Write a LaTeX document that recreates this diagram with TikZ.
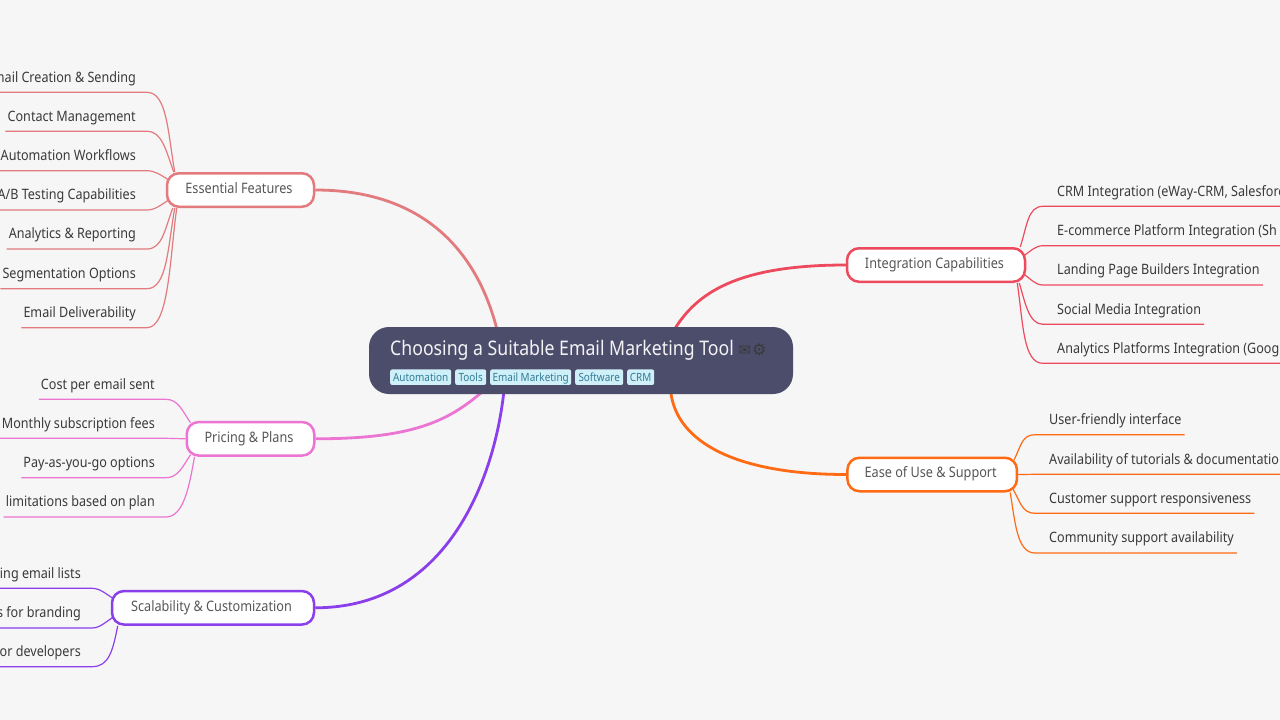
\documentclass[tikz,border=0pt]{standalone}
\usetikzlibrary{backgrounds}
\usepackage{fontspec}
\setmainfont{Noto Sans}[FakeStretch=0.88]
\newfontfamily\symfont{DejaVu Sans}
\definecolor{bgc}{HTML}{F6F6F6}
\definecolor{rootc}{HTML}{4C4C6B}
\definecolor{tagbg}{HTML}{CFF0F8}
\definecolor{tagfg}{HTML}{327C96}
\definecolor{txt}{HTML}{3A3A3A}
\definecolor{essc}{HTML}{E27A7E}
\definecolor{pric}{HTML}{EC74D2}
\definecolor{scac}{HTML}{8A3FEA}
\definecolor{intc}{HTML}{EE4A5E}
\definecolor{easc}{HTML}{FF6A14}
\tikzset{
  x=1pt,y=-1pt,
  branchbox/.style={draw=#1,fill=white,line width=2.5pt,rounded corners=12pt,inner sep=0pt,
    minimum height=33.5pt,text height=10pt,text depth=3.5pt,font=\fontsize{14.4}{16}\selectfont,text=txt!85!white},
  leafnode/.style={inner sep=0pt,text height=12pt,text depth=10pt,font=\fontsize{14.3}{16}\selectfont,text=txt},
  leafl/.style={leafnode,anchor=south east},
  leafr/.style={leafnode,anchor=south west},
  tagbox/.style={fill=tagbg,rounded corners=2pt,inner sep=0pt,minimum height=15.5pt,anchor=west,
    text height=9.5pt,text depth=1pt,font=\fontsize{11.3}{12}\selectfont,text=tagfg},
  trunk/.style={draw=#1,line width=2.8pt},
  twig/.style={draw=#1,line width=1.2pt},
}
\newcommand{\gapL}[1]{\kern2pt #1\kern11pt}
\newcommand{\gapR}[1]{\kern14pt #1\kern3pt}
\newcommand{\lab}[1]{#1\kern3pt}
\begin{document}
\begin{tikzpicture}
\useasboundingbox (0,0) rectangle (1280,720);
\begin{scope}[on background layer]
\fill[bgc] (0,0) rectangle (1280,720);
\end{scope}

% root
\node[fill=rootc,rounded corners=20pt,minimum width=424pt,minimum height=67pt,inner sep=0pt] (root) at (581,360.5) {};
\node[anchor=base west,inner sep=0pt,text=white!93!rootc,font=\fontsize{20.1}{22}\selectfont] (title) at (390,355.2) {Choosing a Suitable Email Marketing Tool};
\node[anchor=base west,inner sep=0pt,text=txt,font=\symfont\fontsize{15}{17}\selectfont] (ico) at (738.5,355) {✉};
\node[anchor=base west,inner sep=0pt,text=txt,font=\symfont\fontsize{16}{17}\selectfont] (ico2) at (752,355.5) {⚙};
\node[tagbox,minimum width=61pt] (t1) at (390,377.2) {Automation};
\node[tagbox,minimum width=31pt] (t2) at (455,377.2) {Tools};
\node[tagbox,minimum width=81pt] (t3) at (490,377.2) {Email Marketing};
\node[tagbox,minimum width=48pt] (t4) at (575,377.2) {Software};
\node[tagbox,minimum width=27pt] (t5) at (627,377.2) {CRM};

% branches
\node[branchbox=essc,minimum width=147pt] (ess) at (240.5,190) {\lab{Essential Features}};
\node[branchbox=pric,minimum width=127.5pt] (pri) at (250.5,438.8) {\lab{Pricing \& Plans}};
\node[branchbox=scac,minimum width=202pt] (sca) at (213,607.8) {\lab{Scalability \& Customization}};
\node[branchbox=intc,minimum width=178pt] (int) at (936,265) {\lab{Integration Capabilities}};
\node[branchbox=easc,minimum width=169.5pt] (eas) at (932.2,474.5) {\lab{Ease of Use \& Support}};

% Essential leaves
\node[leafl] (e1) at (147,92.3) {\gapL{mail Creation \& Sending}};
\node[leafl] (e2) at (147,131.3) {\gapL{Contact Management}};
\node[leafl] (e3) at (147,170.7) {\gapL{Automation Workflows}};
\node[leafl] (e4) at (147,210) {\gapL{A/B Testing Capabilities}};
\node[leafl] (e5) at (147,249) {\gapL{Analytics \& Reporting}};
\node[leafl] (e6) at (147,288.7) {\gapL{Segmentation Options}};
\node[leafl] (e7) at (147,327.7) {\gapL{Email Deliverability}};

% Pricing leaves
\node[leafl] (p1) at (166,399.3) {\gapL{Cost per email sent}};
\node[leafl] (p2) at (166,438.3) {\gapL{Monthly subscription fees}};
\node[leafl] (p3) at (166,477.7) {\gapL{Pay-as-you-go options}};
\node[leafl] (p4) at (166,517) {\gapL{limitations based on plan}};

% Scalability leaves
\node[leafl] (s1) at (92,588.3) {\gapL{ing email lists}};
\node[leafl] (s2) at (92,628) {\gapL{s for branding}};
\node[leafl] (s3) at (92,666.7) {\gapL{or developers}};

% Integration leaves
\node[leafr] (i1) at (1043,206.3) {\gapR{CRM Integration (eWay-CRM, Salesforc}};
\node[leafr] (i2) at (1043,245.7) {\gapR{E-commerce Platform Integration (Sh}};
\node[leafr] (i3) at (1043,285) {\gapR{Landing Page Builders Integration}};
\node[leafr] (i4) at (1043,324.3) {\gapR{Social Media Integration}};
\node[leafr] (i5) at (1043,363.3) {\gapR{Analytics Platforms Integration (Goog}};

% Ease leaves
\node[leafr] (a1) at (1035,434.7) {\gapR{User-friendly interface}};
\node[leafr] (a2) at (1035,474.3) {\gapR{Availability of tutorials \& documentatio}};
\node[leafr] (a3) at (1035,513.3) {\gapR{Customer support responsiveness}};
\node[leafr] (a4) at (1035,553) {\gapR{Community support availability}};

\begin{scope}[on background layer]
% trunks
\draw[trunk=essc] (ess.east) .. controls +(115,0) and +(-18,-70) .. ([xshift=128pt,yshift=-2pt]root.north west);
\draw[trunk=pric] (pri.east) .. controls +(95,0) and +(-35,30) .. ([xshift=113pt,yshift=2pt]root.south west);
\draw[trunk=scac] (sca.east) .. controls +(130,0) and +(-10,90) .. ([xshift=135pt,yshift=2pt]root.south west);
\draw[trunk=intc] (int.west) .. controls +(-110,0) and +(22,-35) .. ([xshift=306pt,yshift=-2pt]root.north west);
\draw[trunk=easc] (eas.west) .. controls +(-110,0) and +(6,50) .. ([xshift=302pt,yshift=2pt]root.south west);
% Essential twigs
\draw[twig=essc] (e1.south west) -- (e1.south east) .. controls +(20,0) and +(-7,-40) .. ([xshift=9pt]ess.north west);
\draw[twig=essc] (e2.south west) -- (e2.south east) .. controls +(15,0) and +(-8,-22) .. ([xshift=8pt]ess.north west);
\draw[twig=essc] (e3.south west) -- (e3.south east) .. controls +(8,0) and +(-8,-5) .. ([xshift=3pt,yshift=-8pt]ess.north west);
\draw[twig=essc] (e4.south west) -- (e4.south east) .. controls +(8,0) and +(-8,5) .. ([xshift=3pt,yshift=8pt]ess.south west);
\draw[twig=essc] (e5.south west) -- (e5.south east) .. controls +(15,0) and +(-8,22) .. ([xshift=7pt]ess.south west);
\draw[twig=essc] (e6.south west) -- (e6.south east) .. controls +(20,0) and +(-7,40) .. ([xshift=9pt]ess.south west);
\draw[twig=essc] (e7.south west) -- (e7.south east) .. controls +(22,0) and +(-7,50) .. ([xshift=11pt]ess.south west);
% Pricing twigs
\draw[twig=pric] (p1.south west) -- (p1.south east) .. controls +(12,0) and +(-8,-12) .. ([xshift=5pt,yshift=-2pt]pri.north west);
\draw[twig=pric] (p2.south west) -- (p2.south east) -- (pri.west);
\draw[twig=pric] (p3.south west) -- (p3.south east) .. controls +(12,0) and +(-8,12) .. ([xshift=5pt,yshift=2pt]pri.south west);
\draw[twig=pric] (p4.south west) -- (p4.south east) .. controls +(18,0) and +(-5,28) .. ([xshift=9pt]pri.south west);
% Scalability twigs
\draw[twig=scac] (s1.south west) -- (s1.south east) .. controls +(8,0) and +(-8,-5) .. ([xshift=3pt,yshift=-9pt]sca.north west);
\draw[twig=scac] (s2.south west) -- (s2.south east) .. controls +(8,0) and +(-8,5) .. ([xshift=3pt,yshift=9pt]sca.south west);
\draw[twig=scac] (s3.south west) -- (s3.south east) .. controls +(17,0) and +(-5,25) .. ([xshift=7pt]sca.south west);
% Integration twigs
\draw[twig=intc] (i1.south east) -- (i1.south west) .. controls +(-15,0) and +(7,-22) .. ([xshift=-6pt]int.north east);
\draw[twig=intc] (i2.south east) -- (i2.south west) .. controls +(-8,0) and +(8,-5) .. ([xshift=-3pt,yshift=-9pt]int.north east);
\draw[twig=intc] (i3.south east) -- (i3.south west) .. controls +(-8,0) and +(8,5) .. ([xshift=-3pt,yshift=9pt]int.south east);
\draw[twig=intc] (i4.south east) -- (i4.south west) .. controls +(-14,0) and +(6,20) .. ([xshift=-7pt]int.south east);
\draw[twig=intc] (i5.south east) -- (i5.south west) .. controls +(-20,0) and +(6,40) .. ([xshift=-9pt]int.south east);
% Ease twigs
\draw[twig=easc] (a1.south east) -- (a1.south west) .. controls +(-13,0) and +(7,-14) .. ([xshift=-4pt,yshift=-3pt]eas.north east);
\draw[twig=easc] (a2.south east) -- (a2.south west) -- (eas.east);
\draw[twig=easc] (a3.south east) -- (a3.south west) .. controls +(-13,0) and +(7,12) .. ([xshift=-5pt,yshift=3pt]eas.south east);
\draw[twig=easc] (a4.south east) -- (a4.south west) .. controls +(-18,0) and +(5,30) .. ([xshift=-8pt]eas.south east);
\end{scope}
\end{tikzpicture}
\end{document}
